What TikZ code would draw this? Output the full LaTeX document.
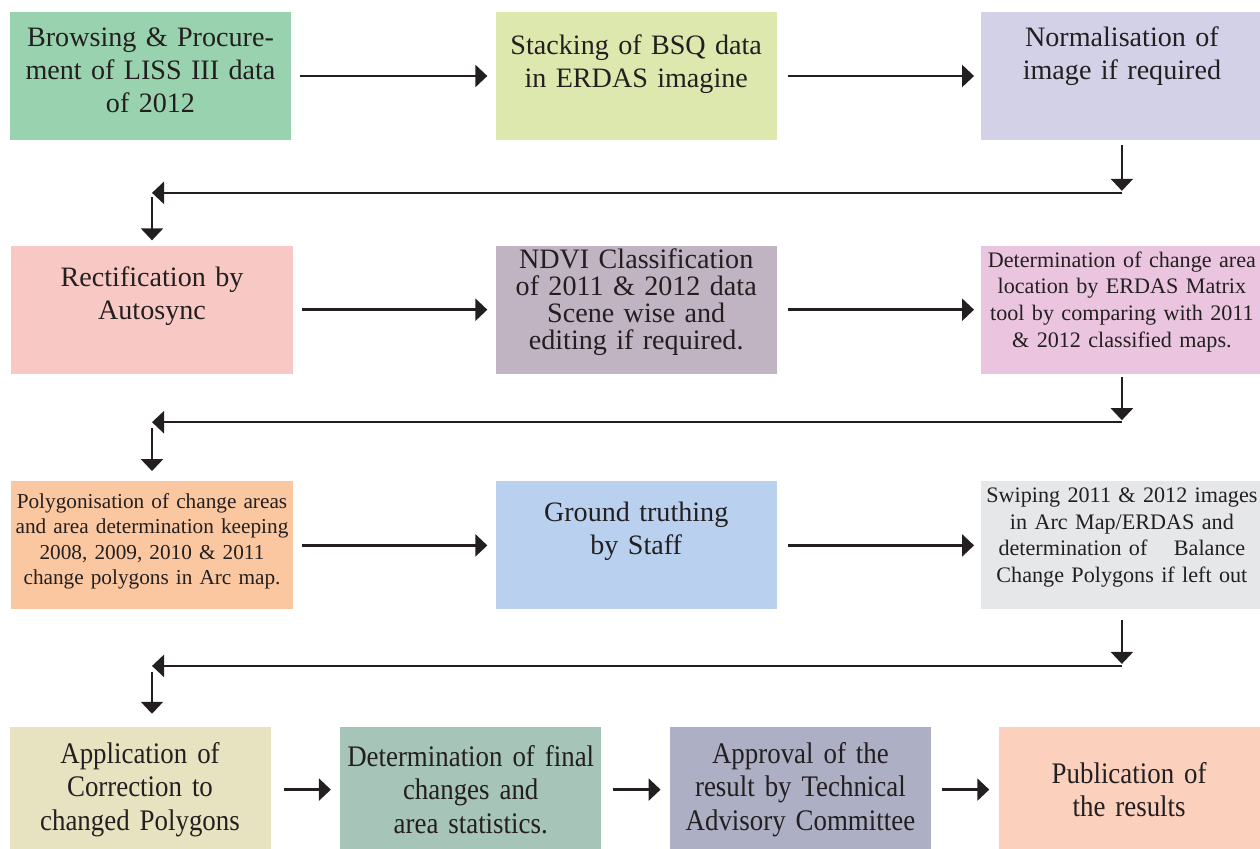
\documentclass[tikz,border=0pt]{standalone}
\usepackage{fontspec}
\setmainfont{Liberation Serif}
\newfontfamily\narrowserif[FakeStretch=0.9]{Liberation Serif}
\usetikzlibrary{positioning}
\usetikzlibrary{arrows.meta}
\usetikzlibrary{calc}

\definecolor{ink}{HTML}{231F20}
\definecolor{browfill}{HTML}{99D2AF}
\definecolor{stackfill}{HTML}{DDE8AE}
\definecolor{normfill}{HTML}{D3D1E8}
\definecolor{rectfill}{HTML}{F8C9C4}
\definecolor{ndvifill}{HTML}{C0B4C3}
\definecolor{locfill}{HTML}{EBC5DF}
\definecolor{polyfill}{HTML}{FBC7A0}
\definecolor{groundfill}{HTML}{B9D1EE}
\definecolor{swipefill}{HTML}{E6E7E8}
\definecolor{applfill}{HTML}{E7E3C0}
\definecolor{finalfill}{HTML}{A6C5B8}
\definecolor{apprfill}{HTML}{ADAFC4}
\definecolor{publfill}{HTML}{FBD1BE}

\begin{document}
\begin{tikzpicture}[box/.style={rectangle,inner xsep=0.01cm,inner ysep=0pt,
  minimum width=5.62cm,minimum height=2.56cm,text width=5.6cm,
  align=center,text=ink,font=\fontsize{16}{18.8}\selectfont},
  small/.style={font=\fontsize{12.6}{15.2}\selectfont},
  lastbox/.style={box,minimum width=5.22cm,minimum height=2.5cm,
  text width=5.2cm,font=\narrowserif\fontsize{17}{19}\selectfont},
  lift/.style={execute at end node={\endgraf\kern#1}},
  arr/.style={line width=1.4pt,draw=ink,
  -{Triangle[length=0.24cm,width=0.44cm]}}]

 \useasboundingbox (0,0) rectangle (25.2,-16.98);

 \node [box, fill=browfill, lift=0.24cm] (brow) at (3.01,-1.52){
  Browsing \& Procure-\\ment of LISS III data\\of 2012};
 \node [box, fill=stackfill, right=4.08cm of brow, lift=0.46cm] (stack){
  Stacking of BSQ data\\in ERDAS imagine};
 \node [box, fill=normfill, right=4.08cm of stack, lift=0.78cm] (norm){
  Normalisation of\\image if required};

 \node [box, fill=rectfill, below=2.1cm of brow, xshift=0.03cm, lift=0.54cm] (rect){
  Rectification by\\Autosync};
 \node [box, fill=ndvifill, below=2.1cm of stack, lift=0.3cm,
  font=\fontsize{16}{15.5}\selectfont] (ndvi){
  NDVI Classification\\of 2011 \& 2012 data\\Scene wise and\\editing if required.};
 \node [box, small, fill=locfill, below=2.1cm of norm, lift=0.32cm] (loc){
  Determination of change area\\location by ERDAS Matrix\\tool by comparing with 2011\\\& 2012 classified maps.};

 \node [box, fill=polyfill, below=2.14cm of rect, lift=0.16cm,
  font=\fontsize{12.1}{14.5}\selectfont] (poly){
  Polygonisation of change areas\\and area determination keeping\\2008, 2009, 2010 \& 2011\\change polygons in Arc map.};
 \node [box, fill=groundfill, below=2.14cm of ndvi, lift=0.58cm] (ground){
  Ground truthing\\by Staff};
 \node [box, small, fill=swipefill, below=2.14cm of loc, lift=0.32cm] (swipe){
  Swiping 2011 \& 2012 images\\in Arc Map/ERDAS and\\determination of\hspace{1.2em}Balance\\Change Polygons if left out};

 \node [lastbox, fill=applfill, below=2.34cm of poly.south west, anchor=north west,
  xshift=-0.04cm] (appl){
  Application of\\Correction to\\changed Polygons};
 \node [lastbox, fill=finalfill, right=1.38cm of appl] (final){
  Determination of final\\changes and\\area statistics.};
 \node [lastbox, fill=apprfill, right=1.36cm of final] (appr){
  Approval of the\\result by Technical\\Advisory Committee};
 \node [lastbox, fill=publfill, right=1.34cm of appr] (publ){
  Publication of\\the results};

 \coordinate (turn1) at ($(norm.south)!0.5!(loc.north)$);
 \coordinate (turn2) at ($(loc.south)!0.45!(swipe.north)$);
 \coordinate (turn3) at ($(swipe.south)!0.48!(appl.north -| swipe.south)$);

 \draw[arr, shorten <=0.18cm, shorten >=0.16cm] (brow) -- (stack);
 \draw[arr, shorten <=0.22cm, shorten >=0.14cm] (stack) -- (norm);
 \draw[arr, shorten <=0.1cm, shorten >=0.04cm] (norm.south) -- (norm.south |- turn1);
 \draw[arr] (norm.south |- turn1) -- (rect.north |- turn1);
 \draw[arr, shorten <=0.08cm, shorten >=0.1cm] (rect.north |- turn1) -- (rect.north);

 \draw[arr, shorten <=0.18cm, shorten >=0.16cm] (rect) -- (ndvi);
 \draw[arr, shorten <=0.22cm, shorten >=0.14cm] (ndvi) -- (loc);
 \draw[arr, shorten <=0.06cm, shorten >=0.04cm] (loc.south) -- (loc.south |- turn2);
 \draw[arr] (loc.south |- turn2) -- (rect.north |- turn2);
 \draw[arr, shorten <=0.12cm, shorten >=0.2cm] (rect.north |- turn2) -- (poly.north);

 \draw[arr, shorten <=0.18cm, shorten >=0.16cm] (poly) -- (ground);
 \draw[arr, shorten <=0.22cm, shorten >=0.14cm] (ground) -- (swipe);
 \draw[arr, shorten <=0.2cm, shorten >=0.04cm] (swipe.south) -- (swipe.south |- turn3);
 \draw[arr] (swipe.south |- turn3) -- (poly.south |- turn3);
 \draw[arr, shorten <=0.12cm, shorten >=0.26cm] (poly.south |- turn3) -- (poly.south |- appl.north);

 \draw[arr, shorten <=0.26cm, shorten >=0.18cm] (appl) -- (final);
 \draw[arr, shorten <=0.22cm, shorten >=0.18cm] (final) -- (appr);
 \draw[arr, shorten <=0.22cm, shorten >=0.18cm] (appr) -- (publ);
\end{tikzpicture}
\end{document}
